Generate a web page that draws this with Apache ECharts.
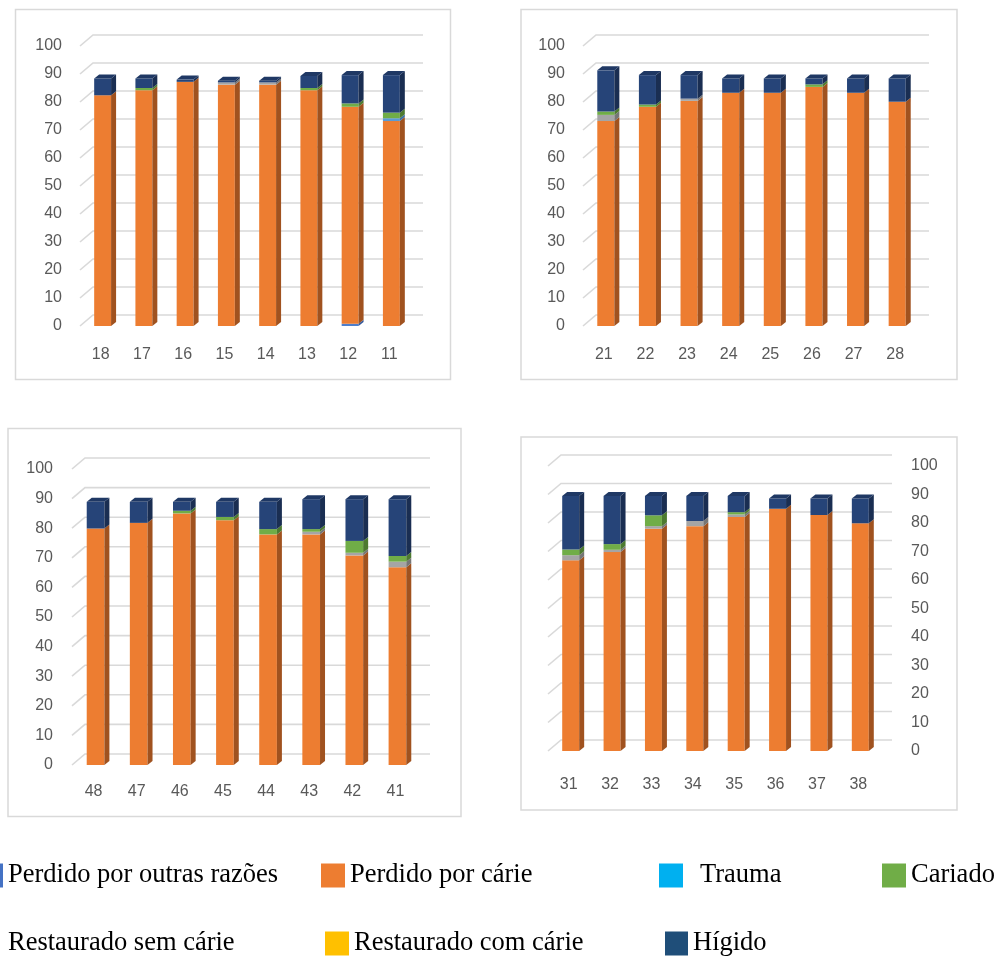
<!DOCTYPE html>
<html>
<head>
<meta charset="utf-8">
<script src="https://cdn.jsdelivr.net/npm/echarts@6/dist/echarts.min.js"></script>
<style>
  html, body { margin: 0; padding: 0; background: #fff; }
  #main { width: 1000px; height: 958px; }
</style>
</head>
<body>
<div id="main"></div>
<script>
// dentes por quadrante
const teethQ1 = ['18', '17', '16', '15', '14', '13', '12', '11'];
const teethQ2 = ['21', '22', '23', '24', '25', '26', '27', '28'];
const teethQ4 = ['48', '47', '46', '45', '44', '43', '42', '41'];
const teethQ3 = ['31', '32', '33', '34', '35', '36', '37', '38'];
const yTicks = [0, 10, 20, 30, 40, 50, 60, 70, 80, 90, 100];

// quadrante 1 (18-11)
const q1Outras  = [0, 0, 0, 0, 0, 0, 0.8, 0];
const q1Carie   = [82.4, 84.2, 87.2, 86.2, 86.2, 84.2, 77.5, 73.2];
const q1Trauma  = [0, 0, 0, 0, 0, 0, 0, 1.0];
const q1RestSem = [0, 0, 0, 0.8, 0.8, 0, 0, 0];
const q1Cariado = [0, 0.8, 0, 0, 0, 0.8, 1.2, 2.0];
const q1RestCom = [0, 0, 0, 0, 0, 0, 0, 0];
const q1Higido  = [6.0, 3.4, 0.8, 0.6, 0.6, 4.3, 10.1, 13.4];

// quadrante 2 (21-28)
const q2Outras  = [0, 0, 0, 0, 0, 0, 0, 0];
const q2Carie   = [73.2, 78.3, 80.4, 83.3, 83.3, 85.4, 83.3, 80.1];
const q2Trauma  = [0, 0, 0, 0, 0, 0, 0, 0];
const q2RestSem = [2.2, 0, 0.8, 0, 0, 0, 0, 0];
const q2Cariado = [1.2, 0.8, 0, 0, 0, 0.9, 0, 0];
const q2RestCom = [0, 0, 0, 0, 0, 0, 0, 0];
const q2Higido  = [14.7, 10.5, 8.4, 5.1, 5.1, 2.1, 5.1, 8.3];

// quadrante 4 (48-41)
const q4Outras  = [0, 0, 0, 0, 0, 0, 0, 0];
const q4Carie   = [79.9, 81.8, 85.0, 82.7, 77.9, 77.9, 70.8, 66.8];
const q4Trauma  = [0, 0, 0, 0, 0, 0, 0, 0];
const q4RestSem = [0, 0, 0, 0, 0, 0.9, 0.9, 1.9];
const q4Cariado = [0, 0, 0.9, 1.1, 1.8, 0.9, 4.0, 1.9];
const q4RestCom = [0, 0, 0, 0, 0, 0, 0, 0];
const q4Higido  = [9.0, 7.1, 3.0, 5.1, 9.2, 10.1, 14.1, 19.2];

// quadrante 3 (31-38)
const q3Outras  = [0, 0, 0, 0, 0, 0, 0, 0];
const q3Carie   = [66.9, 69.8, 78.0, 78.9, 82.1, 85.0, 82.8, 79.9];
const q3Trauma  = [0, 0, 0, 0, 0, 0, 0, 0];
const q3RestSem = [1.8, 0.8, 0.9, 1.8, 0.9, 0, 0, 0];
const q3Cariado = [2.0, 2.0, 3.8, 0, 0.8, 0, 0, 0];
const q3RestCom = [0, 0, 0, 0, 0, 0, 0, 0];
const q3Higido  = [18.8, 16.9, 6.8, 8.8, 5.7, 3.6, 5.8, 8.7];

// ordem de empilhamento (de baixo para cima)
const stackNames = ['Perdido por outras razões', 'Perdido por cárie', 'Trauma', 'Restaurado sem cárie', 'Cariado', 'Restaurado com cárie', 'Hígido'];

// cores: frente, lateral, topo
const colors = {
  'Perdido por outras razões': ['#4F7FCB', '#34589A', '#3E68B0'],
  'Perdido por cárie': ['#ED7D31', '#A0521F', '#C4651F'],
  'Trauma': ['#5B9BD5', '#3E70A0', '#4A86BE'],
  'Restaurado sem cárie': ['#A5A5A5', '#767676', '#8C8C8C'],
  'Cariado': ['#70AD47', '#4D7A30', '#5E9A3A'],
  'Restaurado com cárie': ['#FFC000', '#BF9000', '#D9A300'],
  'Hígido': ['#264478', '#1A2E52', '#1F3864']
};

const panels = [
  { teeth: teethQ1, vals: [q1Outras, q1Carie, q1Trauma, q1RestSem, q1Cariado, q1RestCom, q1Higido],
    grid: { left: 80, top: 46, width: 330, height: 280 }, yPos: 'left', yMargin: 18, xMargin: 21 },
  { teeth: teethQ2, vals: [q2Outras, q2Carie, q2Trauma, q2RestSem, q2Cariado, q2RestCom, q2Higido],
    grid: { left: 583, top: 46, width: 333, height: 280 }, yPos: 'left', yMargin: 18, xMargin: 21 },
  { teeth: teethQ4, vals: [q4Outras, q4Carie, q4Trauma, q4RestSem, q4Cariado, q4RestCom, q4Higido],
    grid: { left: 72, top: 469, width: 345, height: 296 }, yPos: 'left', yMargin: 19, xMargin: 19 },
  { teeth: teethQ3, vals: [q3Outras, q3Carie, q3Trauma, q3RestSem, q3Cariado, q3RestCom, q3Higido],
    grid: { left: 548, top: 466, width: 331, height: 285 }, yPos: 'right', yMargin: 32, xMargin: 26 }
];

const DX = 13, DY = 11;   // deslocamento da parede do fundo
const BD = 5, BDY = 4;    // profundidade da barra

function renderGrid(params, api) {
  const cs = params.coordSys;
  const y = api.coord([0, api.value(1)])[1];
  return {
    type: 'polyline',
    shape: { points: [[cs.x, y], [cs.x + DX, y - DY], [cs.x + cs.width + DX, y - DY]] },
    style: { stroke: '#D9D9D9', lineWidth: 1.6, fill: null }
  };
}

function makeBarRender(c) {
  return function (params, api) {
    const cat = api.value(0), base = api.value(1), top = api.value(2), isTop = api.value(3);
    if (!(top - base > 0)) return;
    const pb = api.coord([cat, base]);
    const pt = api.coord([cat, top]);
    const w = api.size([1, 0])[0] * 0.41;
    const x0 = pb[0] - w / 2 + 2, x1 = x0 + w;
    const yB = pb[1], yT = pt[1];
    const children = [
      { type: 'rect', shape: { x: x0, y: yT, width: w, height: yB - yT }, style: { fill: c[0] } },
      { type: 'polygon', shape: { points: [[x1, yT], [x1 + BD, yT - BDY], [x1 + BD, yB - BDY], [x1, yB]] }, style: { fill: c[1] } }
    ];
    if (isTop) {
      children.push({ type: 'polygon', shape: { points: [[x0, yT], [x1, yT], [x1 + BD, yT - BDY], [x0 + BD, yT - BDY]] }, style: { fill: c[2] } });
    }
    return { type: 'group', children: children };
  };
}

const grids = [], xAxes = [], yAxes = [], series = [];
panels.forEach(function (p, pi) {
  grids.push(p.grid);
  xAxes.push({
    type: 'category', gridIndex: pi, data: p.teeth,
    axisLine: { show: false }, axisTick: { show: false }, splitLine: { show: false },
    axisLabel: { color: '#595959', fontSize: 16, fontFamily: 'Liberation Sans', margin: p.xMargin }
  });
  yAxes.push({
    type: 'value', gridIndex: pi, min: 0, max: 100, interval: 10, position: p.yPos,
    axisLine: { show: false }, axisTick: { show: false }, splitLine: { show: false },
    axisLabel: { color: '#595959', fontSize: 16, fontFamily: 'Liberation Sans', margin: p.yMargin }
  });
  series.push({
    type: 'custom', xAxisIndex: pi, yAxisIndex: pi, silent: true, z: 1,
    renderItem: renderGrid,
    data: yTicks.map(function (v) { return [0, v]; })
  });

  // base acumulada e segmento do topo
  const cum = p.teeth.map(function () { return 0; });
  const lastIdx = p.teeth.map(function (t, i) {
    let last = -1;
    p.vals.forEach(function (arr, si) { if (arr[i] > 0) last = si; });
    return last;
  });
  p.vals.forEach(function (arr, si) {
    const name = stackNames[si];
    const data = arr.map(function (v, i) {
      const b = cum[i];
      cum[i] += v;
      return [i, b, b + v, lastIdx[i] === si ? 1 : 0];
    });
    series.push({
      type: 'custom', name: name, xAxisIndex: pi, yAxisIndex: pi, z: 2,
      itemStyle: { color: colors[name][0] },
      renderItem: makeBarRender(colors[name]),
      data: data
    });
  });
});

const legText = { color: '#000', fontSize: 26.5, fontFamily: 'Liberation Serif' };
function leg(name, left, top, w, opts) {
  return Object.assign({
    data: [name], left: left, top: top, orient: 'horizontal', selectedMode: false,
    itemWidth: w, itemHeight: 24, icon: 'rect', padding: 0, textStyle: legText
  }, opts || {});
}

const option = {
  animation: false,
  backgroundColor: '#fff',
  grid: grids,
  xAxis: xAxes,
  yAxis: yAxes,
  legend: [
    leg('Perdido por outras razões', 0, 862, 3, { data: [{ name: 'Perdido por outras razões', itemStyle: { color: '#4472C4' } }] }),
    leg('Perdido por cárie', 321, 862, 24),
    leg('Trauma', 659, 862, 24, { data: [{ name: 'Trauma', itemStyle: { color: '#00B0F0' } }], textStyle: Object.assign({ padding: [0, 0, 0, 12] }, legText) }),
    leg('Cariado', 882, 862, 24),
    leg('Restaurado sem cárie', 0, 930, 3, { data: [{ name: 'Restaurado sem cárie', itemStyle: { color: 'rgba(0,0,0,0)' } }] }),
    leg('Restaurado com cárie', 325, 930, 24),
    leg('Hígido', 665, 930, 23, { data: [{ name: 'Hígido', itemStyle: { color: '#1F4E79' } }] })
  ],
  graphic: [
    { type: 'rect', shape: { x: 15.5, y: 9.5, width: 435, height: 370 }, style: { fill: null, stroke: '#D9D9D9', lineWidth: 1.5 }, z: 0 },
    { type: 'rect', shape: { x: 521, y: 9.5, width: 436, height: 370 }, style: { fill: null, stroke: '#D9D9D9', lineWidth: 1.5 }, z: 0 },
    { type: 'rect', shape: { x: 8, y: 428.5, width: 453, height: 388 }, style: { fill: null, stroke: '#D9D9D9', lineWidth: 1.5 }, z: 0 },
    { type: 'rect', shape: { x: 521, y: 437, width: 436, height: 373 }, style: { fill: null, stroke: '#D9D9D9', lineWidth: 1.5 }, z: 0 }
  ],
  series: series
};

const myChart = echarts.init(document.getElementById('main'));
myChart.setOption(option);
</script>
</body>
</html>
